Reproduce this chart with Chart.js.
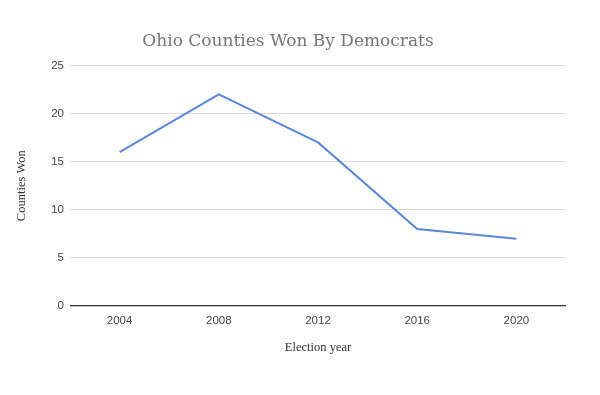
<!DOCTYPE html>
<html>
<head>
<meta charset="utf-8">
<script src="https://cdn.jsdelivr.net/npm/chart.js@4/dist/chart.umd.min.js"></script>
<style>
  html, body { margin: 0; padding: 0; background: #fff; }
  #wrap { width: 600px; height: 395px; }
</style>
</head>
<body>
<div id="wrap"><canvas id="countiesChart" width="600" height="395"></canvas></div>
<script>
const years = ['2004', '2008', '2012', '2016', '2020'];
const countiesWon = [16, 22, 17, 8, 7];
const yTicks = [0, 5, 10, 15, 20, 25];

document.addEventListener('DOMContentLoaded', function () {
    const ctx = document.getElementById('countiesChart').getContext('2d');
    new Chart(ctx, {
        type: 'line',
        data: {
            labels: years,
            datasets: [{
                label: 'Counties Won',
                data: countiesWon,
                borderColor: '#5b87d8',
                backgroundColor: '#5b87d8',
                borderWidth: 2,
                pointRadius: 0,
                fill: false,
                tension: 0
            }]
        },
        options: {
            responsive: false,
            animation: false,
            layout: {
                padding: { left: 10, right: 34, top: 0, bottom: 30 }
            },
            scales: {
                x: {
                    offset: true,
                    grid: { display: false, drawTicks: false },
                    border: { display: false },
                    ticks: {
                        padding: 8,
                        color: '#444',
                        font: { family: 'Liberation Sans, Arial, sans-serif', size: 11.5 }
                    },
                    title: {
                        display: true,
                        text: 'Election year',
                        color: '#333',
                        padding: { top: 0, bottom: 10 },
                        font: { family: 'Liberation Serif, Georgia, serif', size: 12.5 }
                    },
                    afterFit: function (scale) { scale.height = 59; }
                },
                y: {
                    min: 0,
                    max: 25,
                    afterBuildTicks: function (scale) {
                        scale.ticks = yTicks.map(v => ({ value: v }));
                    },
                    grid: {
                        drawTicks: false,
                        color: c => (c.tick && c.tick.value === 0) ? '#333' : '#dcdcdc',
                        lineWidth: c => (c.tick && c.tick.value === 0) ? 1.2 : 1
                    },
                    border: { display: false },
                    ticks: {
                        padding: 6,
                        color: '#444',
                        font: { family: 'Liberation Sans, Arial, sans-serif', size: 11.5 }
                    },
                    title: {
                        display: true,
                        text: 'Counties Won',
                        color: '#333',
                        padding: { top: 4, bottom: 0 },
                        font: { family: 'Liberation Serif, Georgia, serif', size: 12.5 }
                    },
                    afterFit: function (scale) { scale.width = 60; }
                }
            },
            plugins: {
                legend: { display: false },
                tooltip: { enabled: false },
                title: {
                    display: true,
                    text: 'Ohio Counties Won By Democrats',
                    color: '#757575',
                    padding: { top: 31, bottom: 14 },
                    font: { family: 'DejaVu Serif, Georgia, serif', size: 17, weight: 'normal' }
                }
            }
        }
    });
});
</script>
</body>
</html>
